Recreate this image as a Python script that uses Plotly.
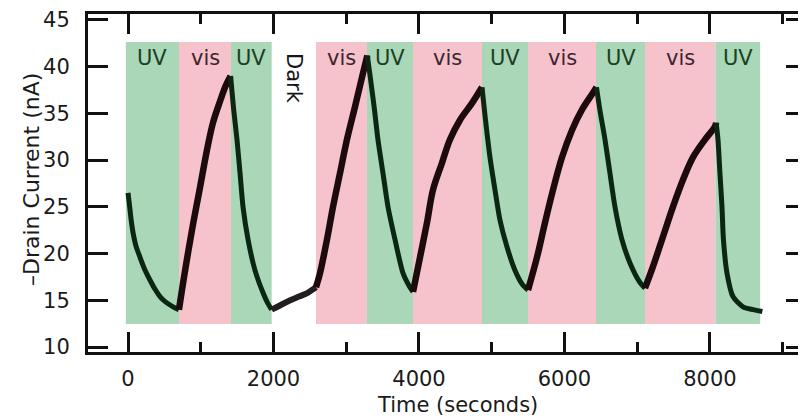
import plotly.graph_objects as go

# ---- data ----
# illumination periods (seconds)
region_kind = ["UV", "vis", "UV", "Dark", "vis", "UV", "vis", "UV", "vis", "UV", "vis", "UV"]
region_start = [-30, 701, 1416, 1975, 2584, 3285, 3918, 4866, 5499, 6433, 7107, 8075]
region_end = [701, 1416, 1975, 2584, 3285, 3918, 4866, 5499, 6433, 7107, 8075, 8690]

# drain current trace, one segment per period
uv1_t = [0, 20, 45, 70, 110, 165, 230, 300, 370, 440, 520, 620, 700]
uv1_i = [26.5, 25.2, 23.5, 22.2, 20.8, 19.6, 18.3, 17.2, 16.2, 15.4, 14.8, 14.3, 14.0]
vis1_t = [700, 760, 830, 900, 990, 1086, 1168, 1265, 1340, 1410]
vis1_i = [14.0, 17.0, 20.3, 23.4, 27.1, 31.1, 34.0, 36.3, 37.9, 39.0]
uv2_t = [1410, 1450, 1498, 1540, 1581, 1650, 1746, 1856, 1920, 1975]
uv2_i = [39.0, 35.6, 32.2, 28.6, 25.0, 21.5, 18.2, 15.8, 14.7, 14.0]
dark_t = [1975, 2100, 2230, 2350, 2470, 2584]
dark_i = [14.0, 14.5, 15.0, 15.4, 15.8, 16.4]
vis2_t = [2584, 2639, 2735, 2818, 2914, 3010, 3120, 3230, 3290]
vis2_i = [16.4, 17.9, 21.5, 25.0, 28.6, 32.2, 35.7, 39.3, 41.2]
uv3_t = [3290, 3335, 3385, 3436, 3505, 3574, 3670, 3780, 3860, 3918]
uv3_i = [41.2, 38.6, 35.6, 32.2, 28.6, 25.0, 21.5, 17.9, 16.6, 15.9]
vis3_t = [3918, 4014, 4110, 4192, 4316, 4426, 4564, 4729, 4866]
vis3_i = [15.9, 19.6, 23.3, 26.8, 29.7, 32.2, 34.3, 36.1, 37.8]
uv4_t = [4866, 4910, 4976, 5045, 5113, 5210, 5320, 5430, 5499]
uv4_i = [37.8, 34.6, 30.3, 26.8, 23.6, 20.7, 18.2, 16.6, 16.1]
vis4_t = [5499, 5622, 5732, 5842, 5966, 6103, 6241, 6392, 6440]
vis4_i = [16.1, 19.6, 23.3, 26.8, 30.3, 33.2, 35.4, 37.2, 37.8]
uv5_t = [6440, 6488, 6557, 6625, 6694, 6790, 6900, 7038, 7107]
uv5_i = [37.8, 35.3, 32.2, 28.6, 25.0, 21.5, 19.0, 16.9, 16.3]
vis5_t = [7107, 7216, 7354, 7491, 7629, 7766, 7931, 8069, 8085]
vis5_i = [16.3, 18.6, 21.8, 25.0, 27.9, 30.3, 32.2, 33.6, 34.0]
uv6_t = [8085, 8110, 8137, 8165, 8185, 8234, 8316, 8454, 8591, 8720]
uv6_i = [34.0, 32.2, 28.6, 25.0, 21.5, 17.9, 15.4, 14.3, 14.0, 13.8]

segments = [
    ("UV", uv1_t, uv1_i), ("vis", vis1_t, vis1_i), ("UV", uv2_t, uv2_i),
    ("Dark", dark_t, dark_i), ("vis", vis2_t, vis2_i), ("UV", uv3_t, uv3_i),
    ("vis", vis3_t, vis3_i), ("UV", uv4_t, uv4_i), ("vis", vis4_t, vis4_i),
    ("UV", uv5_t, uv5_i), ("vis", vis5_t, vis5_i), ("UV", uv6_t, uv6_i),
]

x_ticks = [0, 2000, 4000, 6000, 8000]
y_ticks = [10, 15, 20, 25, 30, 35, 40, 45]

# ---- styling ----
FONT = "DejaVu Sans"
fill = {"UV": "#a9d7b7", "vis": "#f6c2cc"}
line_col = {"UV": "#0b2714", "vis": "#1d0a0c", "Dark": "#231e1e"}
line_w = {"UV": 5, "vis": 6.5, "Dark": 6}
smooth = {"UV": 0.7, "vis": 1.0, "Dark": 1.0}
label_col = {"UV": "#1b3f24", "vis": "#3b2430"}

fig = go.Figure()

for kind, t, cur in segments:
    fig.add_trace(go.Scatter(
        x=t, y=cur, mode="lines",
        line=dict(color=line_col[kind], width=line_w[kind], shape="spline",
                  smoothing=smooth[kind]),
        showlegend=False, hoverinfo="skip"))

shapes = []
annotations = []
for kind, a, b in zip(region_kind, region_start, region_end):
    mid = (a + b) / 2
    if kind == "Dark":
        annotations.append(dict(x=mid, y=38.7, xref="x", yref="y", text="Dark",
                                textangle=90, showarrow=False,
                                xanchor="center", yanchor="middle",
                                font=dict(family=FONT, size=21, color="#151515")))
        continue
    shapes.append(dict(type="rect", xref="x", yref="y", x0=a, x1=b, y0=12.45, y1=42.65,
                       fillcolor=fill[kind], line=dict(width=0), layer="below"))
    annotations.append(dict(x=mid, y=40.9, xref="x", yref="y", text=kind,
                            showarrow=False, xanchor="center", yanchor="middle",
                            font=dict(family=FONT, size=21, color=label_col[kind])))

# page body has an 8px default margin: figure is sized/offset to compensate
OFF = 8
W, H = 806 - OFF, 420 - OFF
ML, MR, MT, MB = 88 - OFF, 0, 14 - OFF, 68

def px_to_paper(px, py):
    return ((px - OFF - ML) / (W - ML - MR), 1 - (py - OFF - MT) / (H - MT - MB))

tx, ty = px_to_paper(457, 405)
annotations.append(dict(x=tx, y=ty, xref="paper", yref="paper", text="Time (seconds)",
                        xanchor="center", yanchor="middle",
                        showarrow=False, font=dict(family=FONT, size=21, color="#1a1a1a")))
yx, yy = px_to_paper(31, 180)
annotations.append(dict(x=yx, y=yy, xref="paper", yref="paper", text="–Drain Current (nA)",
                        textangle=-90, showarrow=False, xanchor="center", yanchor="middle",
                        font=dict(family=FONT, size=22, color="#1a1a1a")))

axis_common = dict(showline=True, linecolor="#111", linewidth=3, mirror="ticks",
                   ticks="inside", tickcolor="#111", tickwidth=3, ticklen=20,
                   showgrid=False, zeroline=False, automargin=False,
                   ticklabeloverflow="allow",
                   tickfont=dict(family=FONT, size=21, color="#1a1a1a"))

fig.update_layout(
    width=W, height=H,
    margin=dict(l=ML, r=MR, t=MT, b=MB),
    paper_bgcolor="white", plot_bgcolor="white",
    shapes=shapes, annotations=annotations,
    xaxis=dict(range=[-550, 9320], tickvals=x_ticks, ticktext=[str(v) for v in x_ticks],
               minor=dict(ticks="inside", dtick=1000, tick0=0, ticklen=10, tickwidth=2.5,
                          tickcolor="#111"),
               ticklabelstandoff=6, **axis_common),
    yaxis=dict(range=[9.465, 45.64], tickvals=y_ticks, ticktext=[str(v) for v in y_ticks],
               ticklabelstandoff=11, **axis_common),
)

fig.write_html("out.html")
